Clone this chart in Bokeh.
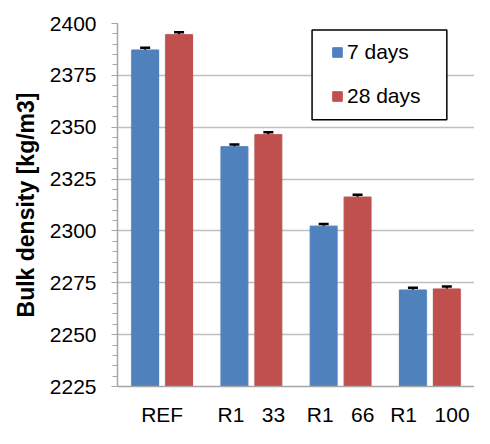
from bokeh.plotting import figure
from bokeh.models import (ColumnDataSource, FactorRange, Range1d, Whisker, TeeHead, Legend,
                          LegendItem, FixedTicker, BoxAnnotation)
from bokeh.transform import dodge
from bokeh.embed import file_html
from bokeh.resources import INLINE

NB = "\u00a0"
categories = ["REF", "R1" + NB * 3 + "33", "R1" + NB * 3 + "66", "R1" + NB * 3 + "100"]
days7 = [2387.2, 2340.6, 2302.3, 2271.5]
days28 = [2394.6, 2346.4, 2316.3, 2272.0]
err7 = [1.1, 1.1, 1.1, 1.1]
err28 = [1.2, 1.2, 1.2, 1.2]
series_names = ["7 days", "28 days"]
y_ticks = [2225, 2250, 2275, 2300, 2325, 2350, 2375, 2400]

BLUE = "#4f81bd"
RED = "#c0504d"
FONT = "Liberation Sans"

src = ColumnDataSource(dict(
    cat=categories,
    d7=days7, d28=days28,
    u7=[v + e for v, e in zip(days7, err7)], l7=[v - e for v, e in zip(days7, err7)],
    u28=[v + e for v, e in zip(days28, err28)], l28=[v - e for v, e in zip(days28, err28)],
    s7=[v + 0.4 for v in days7], s28=[v + 0.4 for v in days28],
))

p = figure(width=474, height=428, x_range=FactorRange(*categories, range_padding=0),
           y_range=Range1d(2225, 2400), output_backend="svg", toolbar_location=None,
           min_border_left=117, min_border_right=0, min_border_top=23, min_border_bottom=38)
p.outline_line_color = None
p.background_fill_color = "white"
p.border_fill_color = "white"

off = 0.19
bw = 0.30
p.vbar(x=dodge("cat", -off, range=p.x_range), top="s7", bottom=2225, width=bw + 0.025,
       source=src, fill_color="black", fill_alpha=0.10, line_color=None)
p.vbar(x=dodge("cat", off, range=p.x_range), top="s28", bottom=2225, width=bw + 0.025,
       source=src, fill_color="black", fill_alpha=0.10, line_color=None)
r7 = p.vbar(x=dodge("cat", -off, range=p.x_range), top="d7", bottom=2225, width=bw,
            source=src, fill_color=BLUE, line_color=BLUE)
r28 = p.vbar(x=dodge("cat", off, range=p.x_range), top="d28", bottom=2225, width=bw,
             source=src, fill_color=RED, line_color=RED)

for key, sign in (("7", -1), ("28", 1)):
    w = Whisker(base=dodge("cat", sign * off, range=p.x_range), upper="u" + key, lower="l" + key,
                source=src, line_color="black", line_width=2,
                upper_head=TeeHead(size=10, line_width=2.5, line_color="black"),
                lower_head=TeeHead(size=10, line_width=2.5, line_color="black"))
    p.add_layout(w)

p.yaxis.ticker = FixedTicker(ticks=y_ticks, minor_ticks=list(range(2225, 2401, 5)))
p.yaxis.axis_label = "Bulk density [kg/m3]"
p.yaxis.axis_label_text_font = FONT
p.yaxis.axis_label_text_font_style = "bold"
p.yaxis.axis_label_text_font_size = "23px"
p.yaxis.axis_label_text_color = "black"
p.yaxis.axis_label_standoff = 8
p.yaxis.major_label_text_font = FONT
p.yaxis.major_label_text_font_size = "21px"
p.yaxis.major_label_text_color = "black"
p.yaxis.major_label_standoff = 15
p.yaxis.axis_line_color = "#a6a6a6"
p.yaxis.axis_line_width = 1.5
p.yaxis.major_tick_line_color = "#a6a6a6"
p.yaxis.minor_tick_line_color = "#a6a6a6"
p.yaxis.major_tick_out = 6
p.yaxis.major_tick_in = 0
p.yaxis.minor_tick_out = 5
p.yaxis.minor_tick_in = 0

p.xaxis.axis_label = None
p.xaxis.axis_label_text_font_size = "0px"
p.xaxis.major_label_text_font = FONT
p.xaxis.major_label_text_font_size = "21px"
p.xaxis.major_label_text_color = "black"
p.xaxis.major_label_standoff = 16
p.xaxis.major_tick_out = 0
p.xaxis.major_tick_in = 0
p.xaxis.axis_label_standoff = 0
p.xaxis.axis_line_color = "#a6a6a6"
p.xaxis.axis_line_width = 1.5
p.xaxis.major_tick_line_color = None
p.xaxis.minor_tick_line_color = None

p.xgrid.grid_line_color = None
p.ygrid.grid_line_color = "#bfbfbf"
p.ygrid.grid_line_width = 1.5

# legend frame (layout position, in plot coordinates)
box = BoxAnnotation(left=2.18, right=3.69, top=2396.9, bottom=2353.6,
                    fill_color="white", fill_alpha=1.0, line_color="black", line_width=1.5,
                    line_alpha=1.0)
p.add_layout(box)

legend = Legend(items=[LegendItem(label=series_names[0], renderers=[r7]),
                       LegendItem(label=series_names[1], renderers=[r28])],
                location=(214, 278))
legend.label_text_font = FONT
legend.label_text_font_size = "21px"
legend.label_text_color = "black"
legend.glyph_width = 12
legend.glyph_height = 12
legend.label_standoff = 4
legend.spacing = 20
legend.padding = 0
legend.margin = 0
legend.border_line_color = None
legend.background_fill_alpha = 0
p.add_layout(legend, "center")

open("out.html", "w").write(file_html(p, INLINE))
